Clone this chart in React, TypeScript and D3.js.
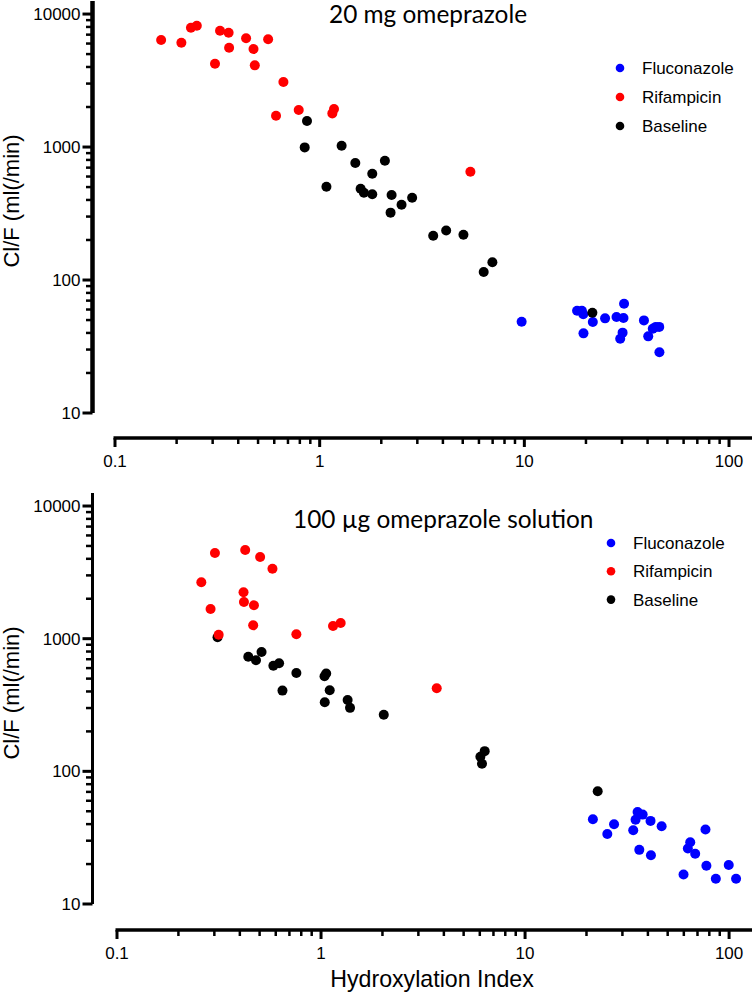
import React from "react";
import * as d3 from "d3";

// ---------- data ----------
const seriesNames = ["Fluconazole", "Rifampicin", "Baseline"];
const seriesColors = ["#0000ff", "#ff0000", "#000000"];

const xTickValues = [0.1, 1, 10, 100];
const xTickLabels = ["0.1", "1", "10", "100"];
const yTickValues = [10, 100, 1000, 10000];
const yTickLabels = ["10", "100", "1000", "10000"];

const panelTitles = ["20 mg omeprazole", "100 µg omeprazole solution"];
const yAxisLabel = "Cl/F (ml(/min)";
const xAxisLabel = "Hydroxylation Index";

// Panel 1: 20 mg omeprazole  [hydroxylation index, Cl/F]
const oralFluconazole: [number, number][] = [
  [9.7, 48.6], [18.1, 58.8], [19.1, 58.8], [19.4, 55.3], [19.45, 39.7], [21.6, 48.3],
  [24.8, 51.5], [28.2, 52.7], [30.5, 51.8], [30.7, 66.4], [30.2, 40.2], [29.4, 36.2],
  [38.4, 49.7], [40.3, 37.7], [42.4, 43], [43.9, 44.4], [45.6, 44.4], [45.7, 28.6],
];
const oralRifampicin: [number, number][] = [
  [0.168, 6375], [0.211, 6085], [0.235, 7889], [0.251, 8166], [0.326, 7489], [0.359, 7236],
  [0.308, 4229], [0.361, 5580], [0.437, 6568], [0.475, 5455], [0.482, 4114], [0.56, 6455],
  [0.665, 3081], [0.612, 1719], [0.79, 1897], [1.153, 1791], [1.175, 1930], [5.45, 652],
];
const oralBaseline: [number, number][] = [
  [0.867, 1568], [0.845, 994], [1.28, 1023], [1.079, 503], [1.493, 758], [1.807, 630],
  [1.585, 486], [1.645, 453], [1.807, 442], [2.083, 789], [2.246, 436], [2.22, 321],
  [2.512, 368], [2.83, 416], [3.587, 215], [4.15, 236], [5.04, 219], [6.98, 136],
  [6.33, 115], [21.5, 56.8],
];

// Panel 2: 100 µg omeprazole solution
const solFluconazole: [number, number][] = [
  [21.5, 43.5], [27.3, 39.9], [25.3, 33.7], [33.9, 36], [34.8, 43.2], [35.6, 49.4],
  [37.7, 47.2], [41.2, 42.3], [46.7, 38.6], [36.3, 25.6], [41.4, 23.3], [59.8, 16.7],
  [62.8, 26.2], [64.5, 29.2], [68.2, 23.9], [76.6, 36.4], [77.4, 19.4], [86.1, 15.5],
  [99.6, 19.7], [108.2, 15.5],
];
const solRifampicin: [number, number][] = [
  [0.259, 2661], [0.302, 4425], [0.2875, 1675], [0.315, 1072], [0.425, 4661], [0.417, 2236],
  [0.419, 1891], [0.469, 1786], [0.465, 1262], [0.503, 4130], [0.578, 3369], [0.757, 1079],
  [1.145, 1247], [1.248, 1313], [3.69, 423],
];
const solBaseline: [number, number][] = [
  [0.311, 1024], [0.44, 731], [0.48, 688], [0.511, 794], [0.584, 626], [0.623, 653],
  [0.647, 406], [0.757, 552], [1.04, 521], [1.06, 546], [1.103, 408], [1.043, 332],
  [1.35, 345], [1.387, 301], [2.03, 267], [6.34, 142], [6.04, 129], [6.15, 114], [22.7, 70.8],
];

const xDomain: [number, number] = [0.1, 129.5];
const yDomain: [number, number] = [10, 12535];

// ---------- layout ----------
const W = 752;
const H = 996;
const AX_FONT = "'Liberation Sans', Arial, sans-serif";
const TITLE_FONT = "Lato, 'Open Sans', sans-serif";

interface PanelCfg {
  title: string;
  series: [number, number][][];
  xRange: [number, number];
  yRange: [number, number];
  axisY: number;
  axisX: number;
  yAxisWidth: number;
  titleX: number;
  titleY: number;
  legendX: number;
  legendY: number;
  legendStep: number;
  yLabelY: number;
}

const panels: PanelCfg[] = [
  {
    title: panelTitles[0],
    series: [oralFluconazole, oralBaseline, oralRifampicin],
    xRange: [115, 752],
    yRange: [413, 1],
    axisY: 438,
    axisX: 92.5,
    yAxisWidth: 4.5,
    titleX: 329,
    titleY: 22.5,
    legendX: 620,
    legendY: 68,
    legendStep: 29,
    yLabelY: 201,
  },
  {
    title: panelTitles[1],
    series: [solFluconazole, solBaseline, solRifampicin],
    xRange: [117, 752],
    yRange: [904, 493],
    axisY: 930,
    axisX: 92.5,
    yAxisWidth: 3,
    titleX: 293,
    titleY: 528,
    legendX: 611,
    legendY: 543,
    legendStep: 28.3,
    yLabelY: 693,
  },
];

// draw order: blue, black, red
const drawColors = [seriesColors[0], seriesColors[2], seriesColors[1]];

function minorTicks(domain: [number, number]): number[] {
  const out: number[] = [];
  for (let dec = Math.floor(Math.log10(domain[0])); dec < Math.ceil(Math.log10(domain[1])); dec++) {
    for (let m = 2; m <= 9; m++) {
      const v = m * Math.pow(10, dec);
      if (v > domain[0] && v < domain[1]) out.push(v);
    }
  }
  return out;
}

function Panel({ cfg }: { cfg: PanelCfg }) {
  const x = d3.scaleLog().domain(xDomain).range(cfg.xRange);
  const y = d3.scaleLog().domain(yDomain).range(cfg.yRange);
  const xMinor = minorTicks([0.1, 100]);
  const yMinor = minorTicks([10, 10000]);

  return (
    <g>
      <text x={cfg.titleX} y={cfg.titleY} fontFamily={TITLE_FONT} fontSize={24.4} fill="#000">
        {cfg.title}
      </text>

      {/* y axis */}
      <line
        x1={cfg.axisX}
        x2={cfg.axisX}
        y1={y(yDomain[0])}
        y2={y(yDomain[1])}
        stroke="#000"
        strokeWidth={cfg.yAxisWidth}
      />
      {yTickValues.map((v) => (
        <line key={"ymaj" + v} x1={cfg.axisX - 10} x2={cfg.axisX} y1={y(v)} y2={y(v)} stroke="#000" strokeWidth={3} />
      ))}
      {yMinor.map((v) => (
        <line key={"ymin" + v} x1={cfg.axisX - 6.5} x2={cfg.axisX} y1={y(v)} y2={y(v)} stroke="#000" strokeWidth={2.5} />
      ))}
      {yTickValues.map((v, i) => (
        <text
          key={"ylab" + v}
          x={cfg.axisX - 12}
          y={y(v)}
          dy="0.36em"
          textAnchor="end"
          fontFamily={AX_FONT}
          fontSize={17}
          fill="#000"
        >
          {yTickLabels[i]}
        </text>
      ))}
      <text
        transform={`translate(19,${cfg.yLabelY}) rotate(-90)`}
        textAnchor="middle"
        fontFamily={AX_FONT}
        fontSize={22}
        fill="#000"
      >
        {yAxisLabel}
      </text>

      {/* x axis */}
      <line x1={x(xDomain[0]) - 1.5} x2={x(xDomain[1])} y1={cfg.axisY} y2={cfg.axisY} stroke="#000" strokeWidth={3.5} />
      {xTickValues.map((v) => (
        <line key={"xmaj" + v} x1={x(v)} x2={x(v)} y1={cfg.axisY} y2={cfg.axisY + 9} stroke="#000" strokeWidth={3} />
      ))}
      {xMinor.map((v) => (
        <line key={"xmin" + v} x1={x(v)} x2={x(v)} y1={cfg.axisY} y2={cfg.axisY + 6} stroke="#000" strokeWidth={2.5} />
      ))}
      {xTickValues.map((v, i) => (
        <text
          key={"xlab" + v}
          x={x(v)}
          y={cfg.axisY + 29}
          textAnchor="middle"
          fontFamily={AX_FONT}
          fontSize={17}
          fill="#000"
        >
          {xTickLabels[i]}
        </text>
      ))}

      {/* points */}
      {cfg.series.map((pts, si) => (
        <g key={"s" + si} fill={drawColors[si]}>
          {pts.map((p, pi) => (
            <circle key={pi} cx={x(p[0])} cy={y(p[1])} r={5} />
          ))}
        </g>
      ))}

      {/* legend */}
      {seriesNames.map((name, i) => (
        <g key={"leg" + name}>
          <circle cx={cfg.legendX} cy={cfg.legendY + i * cfg.legendStep} r={4.3} fill={seriesColors[i]} />
          <text
            x={cfg.legendX + 22}
            y={cfg.legendY + i * cfg.legendStep}
            dy="0.36em"
            fontFamily={AX_FONT}
            fontSize={17}
            fill="#000"
          >
            {name}
          </text>
        </g>
      ))}
    </g>
  );
}

export default function App() {
  return (
    <svg
      width={W}
      height={H}
      viewBox={`0 0 ${W} ${H}`}
      style={{ position: "absolute", left: 0, top: 0, background: "#fff" }}
    >
      <rect x={0} y={0} width={W} height={H} fill="#fff" />
      {panels.map((p, i) => (
        <Panel key={i} cfg={p} />
      ))}
      <text x={432} y={987} textAnchor="middle" fontFamily={AX_FONT} fontSize={23.2} fill="#000">
        {xAxisLabel}
      </text>
    </svg>
  );
}
